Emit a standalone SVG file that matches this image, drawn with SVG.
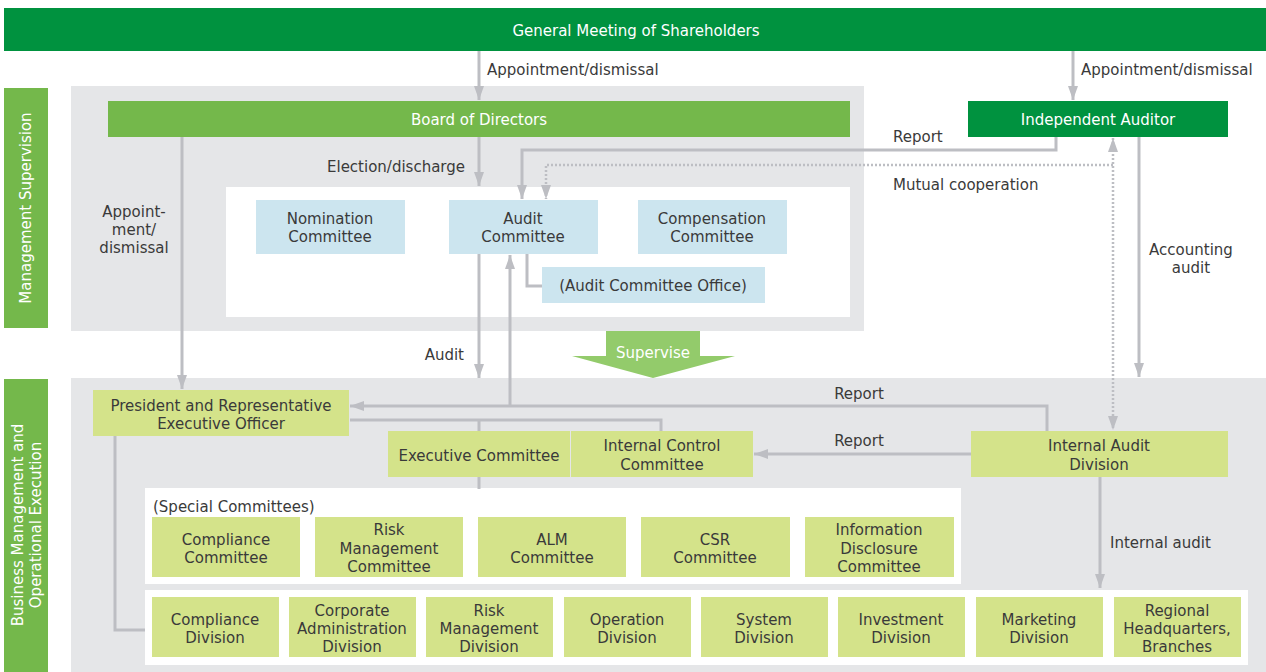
<svg xmlns="http://www.w3.org/2000/svg" width="1266" height="672" viewBox="0 0 1266 672">
<defs>
<style>
text{font-family:"DejaVu Sans","Liberation Sans",sans-serif;font-size:15px;fill:#3a3a3a}
.w{fill:#ffffff}
.c{text-anchor:middle}
.dg{fill:#00923f}
.mg{fill:#74b84b}
.lb{fill:#cce5ef}
.ly{fill:#d4e38a}
.panel{fill:#e5e6e8}
.wp{fill:#ffffff}
.ln{fill:none;stroke:#bdbec3;stroke-width:3}
.dot{fill:none;stroke:#bdbec3;stroke-width:2.5;stroke-dasharray:2 2}
</style>
<marker id="a" viewBox="0 0 14 10" refX="14" refY="5" markerUnits="userSpaceOnUse" markerWidth="14" markerHeight="11" orient="auto-start-reverse">
<path d="M0,0 L14,5 L0,10 z" fill="#bdbec3"/>
</marker>
</defs>

<!-- background panels -->
<g id="panels">
<rect class="panel" x="71" y="86" width="793" height="245"/>
<rect class="wp" x="226" y="187" width="624" height="130"/>
<rect class="panel" x="71" y="378" width="1195" height="294"/>
<rect class="wp" x="145" y="488" width="816" height="96"/>
<rect class="wp" x="145" y="590" width="1103" height="75"/>
</g>

<g id="label-supervision">
<rect class="mg" x="4" y="88" width="44" height="240"/>
<text class="w c" transform="translate(31,208) rotate(-90)">Management Supervision</text>
</g>
<g id="label-execution">
<rect class="mg" x="4" y="379" width="44" height="293"/>
<text class="w c" transform="translate(23,525) rotate(-90)">Business Management and</text>
<text class="w c" transform="translate(41,525) rotate(-90)">Operational Execution</text>
</g>

<g id="connectors">
<path class="ln" d="M479,51 V100" marker-end="url(#a)"/>
<path class="ln" d="M1073,51 V100" marker-end="url(#a)"/>
<path class="ln" d="M479,137 V186" marker-end="url(#a)"/>
<path class="ln" d="M1056,137 V150 H522 V199" marker-end="url(#a)"/>
<path class="dot" d="M1113,165 H546 V199" marker-end="url(#a)"/>
<path class="dot" d="M1113,138 V430" marker-start="url(#a)" marker-end="url(#a)"/>
<path class="ln" d="M1139,137 V377" marker-end="url(#a)"/>
<path class="ln" d="M182,137 V389" marker-end="url(#a)"/>
<path class="ln" d="M479,254 V378" marker-end="url(#a)"/>
<path class="ln" d="M510,405 V255" marker-end="url(#a)"/>
<path class="ln" d="M1047,431 V406 H350" marker-end="url(#a)"/>
<path class="ln" d="M350,420 H661 V431"/>
<path class="ln" d="M479,420 V431"/>
<path class="ln" d="M479,477 V489"/>
<path class="ln" d="M971,454 H754" marker-end="url(#a)"/>
<path class="ln" d="M1100,477 V588" marker-end="url(#a)"/>
<path class="ln" d="M115,436 V630 H145"/>
<path class="ln" d="M527,254 V286 H542"/>
</g>

<g id="connector-labels">
<text x="487" y="75">Appointment/dismissal</text>
<text x="1081" y="75">Appointment/dismissal</text>
<text x="465" y="172" text-anchor="end">Election/discharge</text>
<text x="893" y="142">Report</text>
<text x="893" y="190">Mutual cooperation</text>
<text class="c" x="134" y="217">Appoint-</text>
<text class="c" x="134" y="235">ment/</text>
<text class="c" x="134" y="253">dismissal</text>
<text class="c" x="1191" y="255">Accounting</text>
<text class="c" x="1191" y="273">audit</text>
<text x="464" y="360" text-anchor="end">Audit</text>
<text class="c" x="859" y="399">Report</text>
<text class="c" x="859" y="446">Report</text>
<text x="1110" y="548">Internal audit</text>
</g>

<g id="supervise">
<polygon points="606,331 700,331 700,356 735,356 653,378 572,356 606,356" fill="#93cb6b"/>
<text class="w c" x="653" y="358">Supervise</text>
</g>

<g id="gms">
<rect class="dg" x="4" y="8" width="1262" height="43"/>
<text class="w c" x="636" y="36">General Meeting of Shareholders</text>
</g>
<g id="board">
<rect class="mg" x="108" y="101" width="742" height="36"/>
<text class="w c" x="479" y="125">Board of Directors</text>
</g>
<g id="independent-auditor">
<rect class="dg" x="968" y="101" width="260" height="36"/>
<text class="w c" x="1098" y="125">Independent Auditor</text>
</g>

<g id="nomination">
<rect class="lb" x="256" y="200" width="149" height="54"/>
<text class="c" x="330" y="224">Nomination</text>
<text class="c" x="330" y="242">Committee</text>
</g>
<g id="audit-committee">
<rect class="lb" x="449" y="200" width="149" height="54"/>
<text class="c" x="523" y="224">Audit</text>
<text class="c" x="523" y="242">Committee</text>
</g>
<g id="compensation">
<rect class="lb" x="638" y="200" width="149" height="54"/>
<text class="c" x="712" y="224">Compensation</text>
<text class="c" x="712" y="242">Committee</text>
</g>
<g id="audit-office">
<rect class="lb" x="542" y="267" width="223" height="36"/>
<text class="c" x="653" y="291">(Audit Committee Office)</text>
</g>

<g id="president">
<rect class="ly" x="93" y="390" width="256" height="46"/>
<text class="c" x="221" y="411">President and Representative</text>
<text class="c" x="221" y="429">Executive Officer</text>
</g>
<g id="executive-committee">
<rect class="ly" x="388" y="431" width="182" height="46"/>
<text class="c" x="479" y="461">Executive Committee</text>
</g>
<g id="internal-control">
<rect class="ly" x="571" y="431" width="182" height="46"/>
<text class="c" x="662" y="451">Internal Control</text>
<text class="c" x="662" y="470">Committee</text>
</g>
<g id="internal-audit-division">
<rect class="ly" x="971" y="431" width="257" height="46"/>
<text class="c" x="1099" y="451">Internal Audit</text>
<text class="c" x="1099" y="470">Division</text>
</g>

<g id="special-committees">
<text x="153" y="512">(Special Committees)</text>
</g>
<g id="compliance-committee">
<rect class="ly" x="152" y="517" width="148" height="60"/>
<text class="c" x="226" y="545">Compliance</text>
<text class="c" x="226" y="563">Committee</text>
</g>
<g id="risk-committee">
<rect class="ly" x="315" y="517" width="148" height="60"/>
<text class="c" x="389" y="535">Risk</text>
<text class="c" x="389" y="554">Management</text>
<text class="c" x="389" y="572">Committee</text>
</g>
<g id="alm-committee">
<rect class="ly" x="478" y="517" width="148" height="60"/>
<text class="c" x="552" y="545">ALM</text>
<text class="c" x="552" y="563">Committee</text>
</g>
<g id="csr-committee">
<rect class="ly" x="641" y="517" width="149" height="60"/>
<text class="c" x="715" y="545">CSR</text>
<text class="c" x="715" y="563">Committee</text>
</g>
<g id="disclosure-committee">
<rect class="ly" x="805" y="517" width="149" height="60"/>
<text class="c" x="879" y="535">Information</text>
<text class="c" x="879" y="554">Disclosure</text>
<text class="c" x="879" y="572">Committee</text>
</g>

<g id="compliance-division">
<rect class="ly" x="152" y="597" width="127" height="60"/>
<text class="c" x="215" y="625">Compliance</text>
<text class="c" x="215" y="643">Division</text>
</g>
<g id="corporate-admin-division">
<rect class="ly" x="289" y="597" width="127" height="60"/>
<text class="c" x="352" y="616">Corporate</text>
<text class="c" x="352" y="634">Administration</text>
<text class="c" x="352" y="652">Division</text>
</g>
<g id="risk-division">
<rect class="ly" x="426" y="597" width="127" height="60"/>
<text class="c" x="489" y="616">Risk</text>
<text class="c" x="489" y="634">Management</text>
<text class="c" x="489" y="652">Division</text>
</g>
<g id="operation-division">
<rect class="ly" x="564" y="597" width="127" height="60"/>
<text class="c" x="627" y="625">Operation</text>
<text class="c" x="627" y="643">Division</text>
</g>
<g id="system-division">
<rect class="ly" x="701" y="597" width="127" height="60"/>
<text class="c" x="764" y="625">System</text>
<text class="c" x="764" y="643">Division</text>
</g>
<g id="investment-division">
<rect class="ly" x="838" y="597" width="127" height="60"/>
<text class="c" x="901" y="625">Investment</text>
<text class="c" x="901" y="643">Division</text>
</g>
<g id="marketing-division">
<rect class="ly" x="976" y="597" width="127" height="60"/>
<text class="c" x="1039" y="625">Marketing</text>
<text class="c" x="1039" y="643">Division</text>
</g>
<g id="regional-division">
<rect class="ly" x="1114" y="597" width="127" height="60"/>
<text class="c" x="1177" y="616">Regional</text>
<text class="c" x="1177" y="634">Headquarters,</text>
<text class="c" x="1177" y="652">Branches</text>
</g>
</svg>
